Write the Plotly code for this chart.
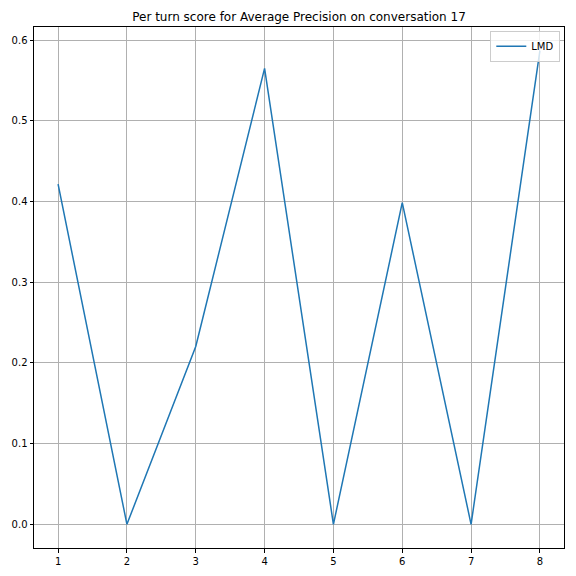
import plotly.graph_objects as go

turns = [1, 2, 3, 4, 5, 6, 7, 8]
lmd_scores = [0.4216, 0.0, 0.2204, 0.565, 0.0, 0.3986, 0.0, 0.587]
y_ticks = [0.0, 0.1, 0.2, 0.3, 0.4, 0.5, 0.6]
x_ticks = turns

fig = go.Figure()
fig.add_trace(go.Scatter(x=turns, y=lmd_scores, mode="lines", name="LMD",
                         line=dict(color="#1f77b4", width=1.5)))

ymax = max(lmd_scores)
fig.update_layout(
    width=576, height=576,
    paper_bgcolor="white", plot_bgcolor="white",
    margin=dict(l=26, r=20, t=19, b=36, autoexpand=False),
    title=dict(text="Per turn score for Average Precision on conversation 17",
               x=(26 + (576 - 20 - 26) / 2) / 576, xanchor="center", y=1 - 9/576, yanchor="middle",
               font=dict(family="DejaVu Sans", size=12, color="black")),
    font=dict(family="DejaVu Sans", size=10, color="black"),
    showlegend=True,
    legend=dict(x=0.993, y=0.993, xanchor="right", yanchor="top",
                bgcolor="rgba(255,255,255,0.8)", bordercolor="#cccccc", borderwidth=1,
                font=dict(size=10), itemwidth=30),
    xaxis=dict(range=[0.65, 8.35], tickvals=x_ticks, showgrid=True, gridcolor="#b0b0b0",
               gridwidth=0.8, showline=True, linecolor="black", linewidth=1, mirror=True,
               ticks="outside", ticklen=3.5, tickcolor="black", zeroline=False,
               automargin=False),
    yaxis=dict(range=[-0.05 * ymax, 1.05 * ymax], tickvals=y_ticks, tickformat=".1f",
               showgrid=True, gridcolor="#b0b0b0", gridwidth=0.8, showline=True,
               linecolor="black", linewidth=1, mirror=True, ticks="outside", ticklen=3.5,
               tickcolor="black", zeroline=False, automargin=False),
)

fig.write_html("out.html")
